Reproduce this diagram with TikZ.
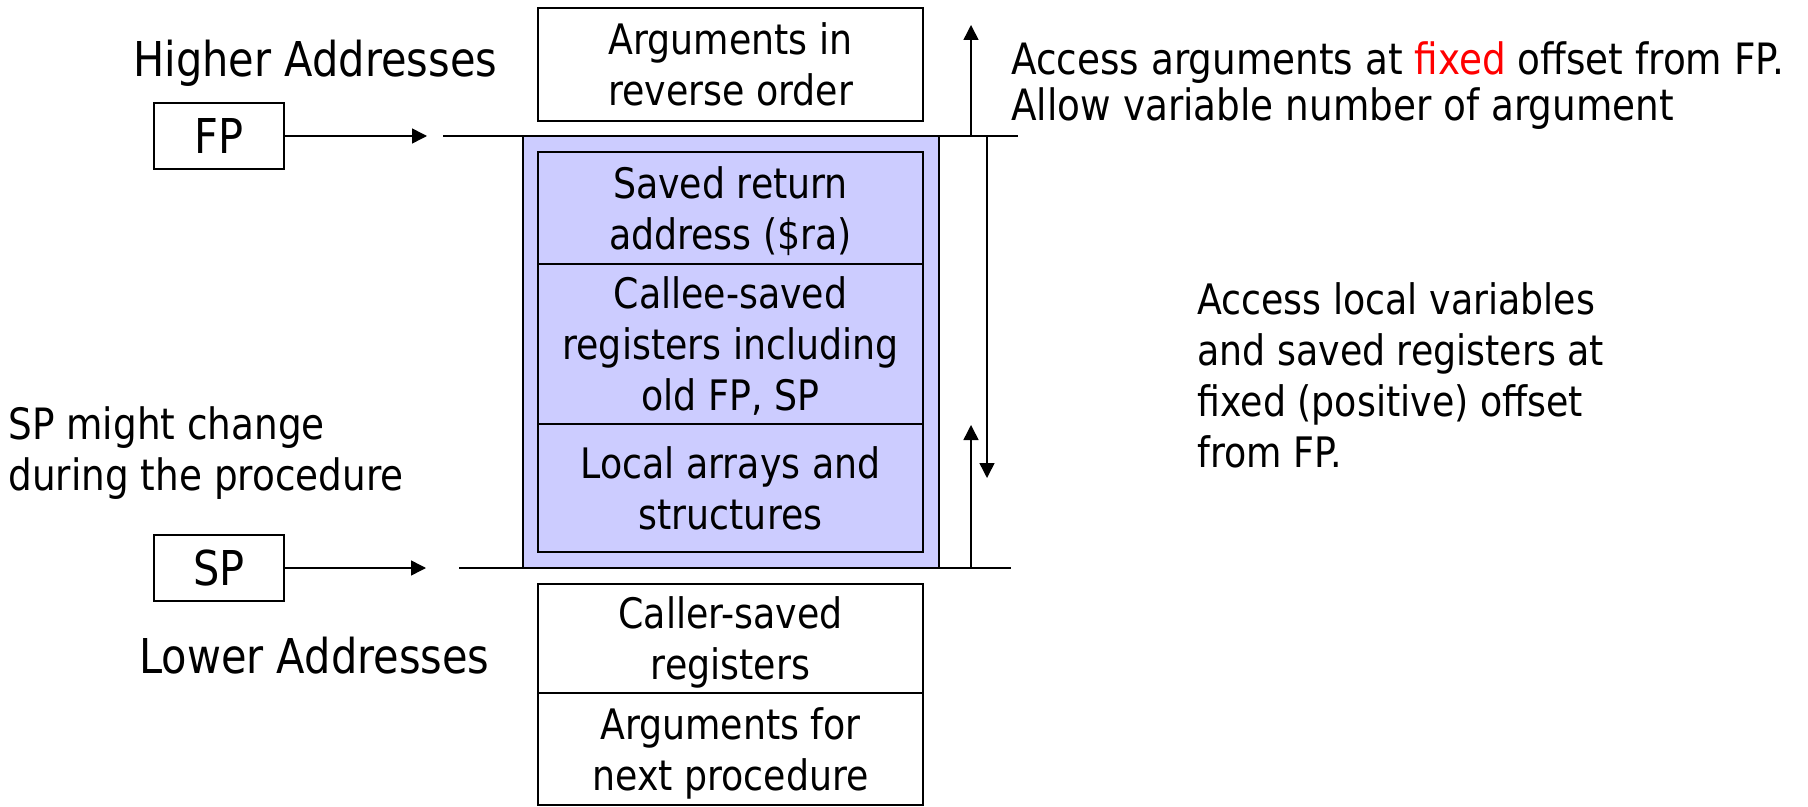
\documentclass[tikz,border=0pt]{standalone}
\usepackage{fontspec}
\setmainfont{DejaVu Sans}[FakeStretch=0.865]
\usetikzlibrary{arrows.meta}
\definecolor{framefill}{RGB}{204,204,255}
\newcommand\lblsize{\fontsize{24pt}{28pt}\selectfont}
\newcommand\txtsize{\fontsize{21pt}{25.5pt}\selectfont}

\begin{document}
\begin{tikzpicture}[x=0.5pt,y=-0.5pt,
  cell/.style={draw, line width=1pt, align=center, inner sep=0pt,
    font=\txtsize, text depth=0pt, minimum width=192.5pt},
  blue cell/.style={cell, fill=framefill},
  reg/.style={draw, line width=1pt, inner sep=0pt, font=\lblsize,
    minimum width=65pt, minimum height=33pt},
  lbl/.style={inner sep=0pt, font=\lblsize},
  note/.style={inner sep=0pt, font=\txtsize, align=left, anchor=base west},
  ln/.style={line width=0.75pt},
  arr/.style={ln, -{Triangle[length=7.5pt,width=7.5pt]}}]
\useasboundingbox (0,0) rectangle (1808,807);

% stack frame of the current procedure
\node[draw, line width=1pt, fill=framefill, inner sep=0pt,
  minimum width=208pt, minimum height=216pt] (frame) at (731,352) {};

% stack cells
\node[cell, minimum height=56.25pt] (args) at (730.5,64.5) {Arguments in\\reverse order};
\node[blue cell, minimum height=56pt] (ra) at (730.5,208) {Saved return\\address (\$ra)};
\node[blue cell, minimum height=80pt] (callee) at (730.5,344) {Callee-saved\\registers including\\old FP, SP};
\node[blue cell, minimum height=64pt] (local) at (730.5,488) {Local arrays and\\structures};
\node[cell, minimum height=54.5pt] (caller) at (730.5,638.5) {Caller-saved\\registers};
\node[cell, minimum height=56pt] (nextargs) at (730.5,749) {Arguments for\\next procedure};

% frame and stack pointers
\node[reg] (fp) at (219,136) {FP};
\node[reg] (sp) at (219,568) {SP};

\coordinate (fptip) at (427,136);
\coordinate (fpL) at (443,136);
\coordinate (fpR) at (1018,136);
\coordinate (sptip) at (426,568);
\coordinate (spL) at (459,568);
\coordinate (spR) at (1011,568);

\draw[arr] (fp.east) -- (fptip);
\draw[arr] (sp.east) -- (sptip);
\draw[ln] (fpL) -- (fpR);
\draw[ln] (spL) -- (spR);

% offsets measured from FP
\coordinate (upA) at (971,136);
\coordinate (upAtip) at (971,25);
\coordinate (dnA) at (987,136);
\coordinate (dnAtip) at (987,478);
\coordinate (upB) at (971,568);
\coordinate (upBtip) at (971,425);
\draw[arr] (upA) -- (upAtip);
\draw[arr] (dnA) -- (dnAtip);
\draw[arr] (upB) -- (upBtip);

% labels (base anchor of a multi-line note is its last line)
\node[lbl, anchor=base west] (hi) at (133,77) {Higher Addresses};
\node[lbl, anchor=base west] (lo) at (139,673) {Lower Addresses};
\node[note, font=\fontsize{21.6pt}{25.5pt}\selectfont] (spnote) at (8,490) {SP might change\\during the procedure};
\node[note, font=\fontsize{21.6pt}{23pt}\selectfont] (argnote) at (1011,121) {Access arguments at \textcolor{red}{fixed} offset from FP.\\Allow variable number of argument};
\node[note] (locnote) at (1197,467) {Access local variables\\and saved registers at\\fixed (positive) offset\\from FP.};
\end{tikzpicture}
\end{document}
